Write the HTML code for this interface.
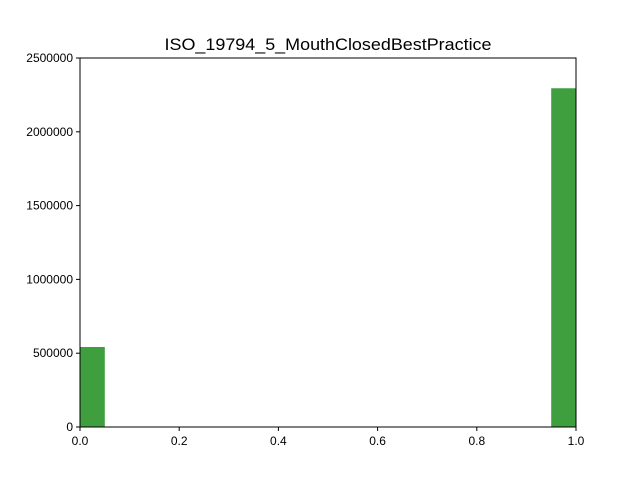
<!DOCTYPE html>
<html><head><meta charset="utf-8"><style>
body{margin:0;background:#fff}
svg{font-family:"Liberation Sans","DejaVu Sans",sans-serif}
</style></head><body>
<svg width="640" height="480" xmlns="http://www.w3.org/2000/svg">
<rect width="640" height="480" fill="#fff"/>
<text x="328" y="50" font-size="16.5" text-anchor="middle" textLength="327" lengthAdjust="spacingAndGlyphs">ISO_19794_5_MouthClosedBestPractice</text>
<g id="bars"></g>
<g id="axes"></g>
</svg>
<script>
const binStarts = [0.0, 0.95];
const binWidth = 0.05;
const counts = [542000, 2295000];
const xTicks = [0, 0.2, 0.4, 0.6, 0.8, 1.0];
const xTickLabels = ["0.0","0.2","0.4","0.6","0.8","1.0"];
const yTicks = [0, 500000, 1000000, 1500000, 2000000, 2500000];
const yTickLabels = ["0","500000","1000000","1500000","2000000","2500000"];

const L=80,R=576,T=58,B=427;
const xs=v=>L+(v-0)/(1-0)*(R-L);
const ys=v=>B-(v/2500000)*(B-T);
const NS="http://www.w3.org/2000/svg";
const bars=document.getElementById('bars'), axes=document.getElementById('axes');
function mk(tag,attrs,parent){const e=document.createElementNS(NS,tag);for(const k in attrs)e.setAttribute(k,attrs[k]);parent.appendChild(e);return e;}
binStarts.forEach((b,i)=>{
  const r=mk('rect',{x:xs(b),y:ys(counts[i]),width:xs(b+binWidth)-xs(b),height:B-ys(counts[i]),fill:'#3f9f3f'},bars);
  
  
});
const frame=mk('rect',{x:L,y:T,width:R-L,height:B-T,fill:'none',stroke:'#000','stroke-width':1},axes);


xTicks.forEach((v,i)=>{
  const x=xs(v);
  mk('line',{x1:x,y1:B,x2:x,y2:B+4,stroke:'#000'},axes);
  const t=mk('text',{x:x,y:B+18,'font-size':12,'text-anchor':'middle'},axes);
  t.textContent=xTickLabels[i];
  
  
});
yTicks.forEach((v,i)=>{
  const y=ys(v);
  mk('line',{x1:L-4,y1:y,x2:L,y2:y,stroke:'#000'},axes);
  const t=mk('text',{x:L-7,y:y+4,'font-size':12,'text-anchor':'end'},axes);
  t.textContent=yTickLabels[i];
  
  
});
</script>
</body></html>
